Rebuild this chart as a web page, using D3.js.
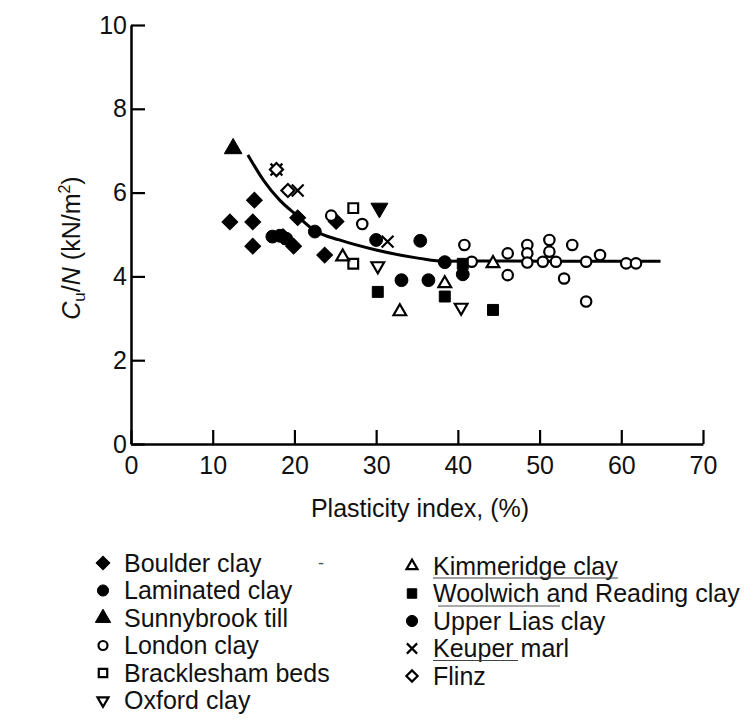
<!DOCTYPE html>
<html>
<head>
<meta charset="utf-8">
<script src="https://cdn.jsdelivr.net/npm/d3@7"></script>
<style>
  body { margin: 0; background: #fff; }
  svg { display: block; font-family: Arial, "Liberation Sans", Helvetica, sans-serif; }
</style>
</head>
<body>
<div id="chart"></div>
<script>
// values (plasticity index %, Cu/N kN/m2)
let boulderClay = [[12.1,5.3],[15.1,5.82],[14.9,5.3],[14.9,4.72],[18.6,4.95],[19.9,4.72],[20.4,5.4],[23.7,4.51],[25.1,5.31]];
let laminatedClay = [[17.3,4.95],[18.2,4.97],[19.0,4.9],[22.5,5.07],[30.0,4.87]];
let sunnybrookTill = [[12.5,7.05]];
let londonClay = [[24.5,5.45],[28.3,5.25],[40.8,4.75],[41.7,4.35],[46.1,4.55],[46.1,4.03],[48.5,4.75],[48.5,4.55],[48.5,4.33],
  [51.2,4.87],[51.2,4.59],[50.4,4.35],[52.0,4.35],[54.0,4.75],[53.0,3.95],[55.7,4.35],[55.7,3.4],[57.4,4.51],[60.6,4.31],[61.8,4.31]];
let brackleshamBeds = [[27.2,5.63],[27.2,4.3]];
let oxfordClay = [[30.2,4.25],[40.4,3.26]];
let oxfordFilled = [[30.4,5.63]];
let kimmeridgeClay = [[25.9,4.47],[32.9,3.16],[38.4,3.83],[44.3,4.31]];
let woolwichReading = [[30.2,3.63],[38.4,3.52],[40.6,4.3],[44.3,3.2]];
let upperLiasClay = [[33.1,3.91],[35.4,4.85],[36.4,3.91],[38.4,4.34],[40.6,4.05]];
let keuperMarl = [[17.8,6.55],[20.4,6.05],[31.4,4.83]];
let flinz = [[17.8,6.55],[19.2,6.05]];
let trendLine = [[14.3,6.9],[16.2,6.3],[18.2,5.82],[20.2,5.47],[22.5,5.09],[25.5,4.87],[30,4.63],[35.3,4.43],[38.4,4.36],[45,4.37],[55,4.36],[64.8,4.36]];

let xTicks = [0,10,20,30,40,50,60,70];
let yTicks = [0,2,4,6,8,10];

let width = 754, height = 724;

let svg = d3.select("#chart").append("svg")
    .attr("width", width)
    .attr("height", height)
    .style("background", "#fff");

let x = d3.scaleLinear().domain([0,70]).range([131,703]);
let y = d3.scaleLinear().domain([0,10]).range([444,25]);

// X shaped marker
let symbolX = {
  draw(ctx, size) {
    let r = Math.sqrt(size) / 2;
    ctx.moveTo(-r,-r); ctx.lineTo(r,r);
    ctx.moveTo(r,-r); ctx.lineTo(-r,r);
  }
};

// marker styles per series
let series = [
  {name: "Boulder clay", data: boulderClay, type: d3.symbolSquare, size: 125, rot: 45, fill: true},
  {name: "Laminated clay", data: laminatedClay, type: d3.symbolCircle, size: 130, fill: true},
  {name: "Sunnybrook till", data: sunnybrookTill, type: d3.symbolTriangle, size: 135, fill: true},
  {name: "London clay", data: londonClay, type: d3.symbolCircle, size: 85, fill: false},
  {name: "Bracklesham beds", data: brackleshamBeds, type: d3.symbolSquare, size: 95, fill: false},
  {name: "Oxford clay", data: oxfordClay, type: d3.symbolTriangle, size: 70, rot: 180, fill: false},
  {name: "Kimmeridge clay", data: kimmeridgeClay, type: d3.symbolTriangle, size: 70, fill: false},
  {name: "Woolwich and Reading clay", data: woolwichReading, type: d3.symbolSquare, size: 120, fill: true},
  {name: "Upper Lias clay", data: upperLiasClay, type: d3.symbolCircle, size: 130, fill: true},
  {name: "Keuper marl", data: keuperMarl, type: symbolX, size: 140, fill: false, line: true},
  {name: "Flinz", data: flinz, type: d3.symbolSquare, size: 85, rot: 45, fill: false},
  {name: null, data: oxfordFilled, type: d3.symbolTriangle, size: 125, rot: 180, fill: true}
];

// axes
svg.append("g")
    .attr("transform", "translate(0," + y(0) + ")")
    .call(d3.axisBottom(x).tickValues(xTicks).tickSizeInner(-14).tickSizeOuter(0).tickPadding(12));
svg.append("g")
    .attr("transform", "translate(" + x(0) + ",0)")
    .call(d3.axisLeft(y).tickValues(yTicks).tickSizeInner(-14).tickSizeOuter(0).tickPadding(4));

svg.selectAll(".domain").attr("stroke", "#000").attr("stroke-width", 2.5);
svg.selectAll(".tick line").attr("stroke", "#000").attr("stroke-width", 2.2);
svg.selectAll(".tick text")
    .attr("font-size", 25)
    .attr("font-family", "Arial, 'Liberation Sans', sans-serif")
    .attr("fill", "#111");

svg.append("text")
    .attr("x", 420)
    .attr("y", 517)
    .attr("text-anchor", "middle")
    .attr("font-size", 25)
    .attr("fill", "#111")
    .text("Plasticity index, (%)");

let yLabel = svg.append("text")
    .attr("transform", "translate(80,248) rotate(-90)")
    .attr("text-anchor", "middle")
    .attr("font-size", 25)
    .attr("fill", "#111");
yLabel.append("tspan").attr("font-style", "italic").text("C");
yLabel.append("tspan").attr("font-size", 17).attr("dy", 5).text("u");
yLabel.append("tspan").attr("dy", -5).text("/");
yLabel.append("tspan").attr("font-style", "italic").text("N");
yLabel.append("tspan").text(" (kN/m");
yLabel.append("tspan").attr("font-size", 16).attr("dy", -10).text("2");
yLabel.append("tspan").attr("dy", 10).text(")");

// trend curve
let line = d3.line()
    .x(d => x(d[0]))
    .y(d => y(d[1]))
    .curve(d3.curveMonotoneX);

svg.append("path")
    .datum(trendLine)
    .attr("d", line)
    .attr("fill", "none")
    .attr("stroke", "#000")
    .attr("stroke-width", 3);

function styleMarker(sel, s) {
  sel.attr("fill", s.fill ? "#000" : (s.line ? "none" : "#fff"))
     .attr("stroke", "#000")
     .attr("stroke-width", s.fill ? 1 : 2.2);
}

series.forEach(s => {
  let sym = d3.symbol().type(s.type).size(s.size);
  svg.append("g")
    .selectAll("path")
    .data(s.data)
    .enter()
    .append("path")
    .attr("d", sym)
    .attr("transform", d => "translate(" + x(d[0]) + "," + y(d[1]) + ") rotate(" + (s.rot || 0) + ")")
    .call(styleMarker, s);
});

// legend
let legendLeft = series.slice(0, 6);
let legendRight = series.slice(6, 11);

function drawLegend(items, sx, tx, y0, step) {
  items.forEach((s, i) => {
    let cy = y0 + i * step;
    let sym = d3.symbol().type(s.type).size(s.size * 0.75);
    svg.append("path")
      .attr("d", sym)
      .attr("transform", "translate(" + sx + "," + cy + ") rotate(" + (s.rot || 0) + ")")
      .call(styleMarker, s);
    let t = svg.append("text")
      .attr("x", tx)
      .attr("y", cy)
      .attr("dy", "0.35em")
      .attr("font-size", 25)
      .attr("fill", "#111")
      .text(s.name);
    // scan artefacts: rules under some right hand entries
    if (s.name == "Kimmeridge clay" || s.name == "Keuper marl") {
      let w = s.name == "Keuper marl" ? 85 : t.node().getComputedTextLength();
      svg.append("line")
        .attr("x1", tx).attr("x2", tx + w)
        .attr("y1", cy + 12).attr("y2", cy + 12)
        .attr("stroke", "#444").attr("stroke-width", 1.2);
    }
  });
}

drawLegend(legendLeft, 103, 124, 563, 27.5);
drawLegend(legendRight, 412, 433, 566, 27.5);

svg.append("line")
    .attr("x1", 438).attr("x2", 560)
    .attr("y1", 606).attr("y2", 606)
    .attr("stroke", "#555").attr("stroke-width", 1.2);

svg.append("text")
    .attr("x", 318)
    .attr("y", 563)
    .attr("dy", "0.35em")
    .attr("font-size", 18)
    .attr("fill", "#555")
    .text("-");
</script>
</body>
</html>
